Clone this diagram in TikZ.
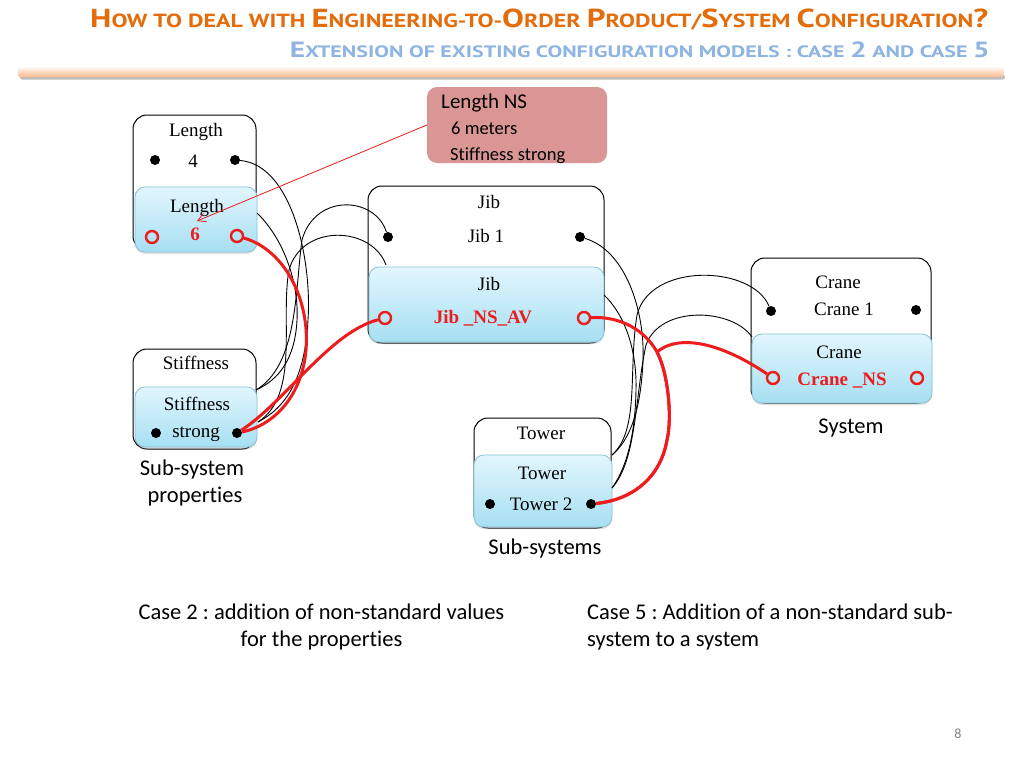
\documentclass[tikz,border=0pt]{standalone}
\usepackage{fontspec}
\usepackage{graphicx}
\setmainfont{Liberation Serif}
\newfontfamily\calfont[Ligatures={NoCommon}]{Carlito}
\newfontfamily\ttlfont{PT Sans}
\usetikzlibrary{arrows.meta,shadows}
\definecolor{ttlor}{HTML}{E46C0A}
\definecolor{subbl}{HTML}{8EB4E3}
\definecolor{callout}{HTML}{D99694}
\definecolor{bluetop}{HTML}{E2F6FD}
\definecolor{bluebot}{HTML}{A6DFF2}
\definecolor{blueedge}{HTML}{86C3D8}
\definecolor{redc}{HTML}{EE1C1C}
\definecolor{baror}{HTML}{F9B98A}
\newcommand\TB[1]{{\fontsize{26pt}{26pt}\selectfont #1}}
\newcommand\TS[1]{{\fontsize{19pt}{19pt}\selectfont #1}}
\newcommand\SB[1]{{\fontsize{22pt}{22pt}\selectfont #1}}
\newcommand\SSm[1]{{\fontsize{16.5pt}{16.5pt}\selectfont #1}}
\frenchspacing
\tikzset{
 whitebox/.style={draw=black, line width=1pt, rounded corners=14pt, fill=white, inner sep=0pt},
 bluebox/.style={draw=blueedge, line width=0.8pt, rounded corners=10pt, top color=bluetop, bottom color=bluebot, inner sep=0pt,
   drop shadow={shadow xshift=0pt, shadow yshift=-2pt, opacity=0.25}},
 dot/.style={circle, fill=black, inner sep=0pt, minimum size=10pt},
 ring/.style={circle, draw=redc, line width=2.4pt, inner sep=0pt, minimum size=12pt},
 lab/.style={font=\fontsize{19}{19}\selectfont, inner sep=0pt, anchor=base},
 redlab/.style={font=\fontsize{19}{19}\selectfont\bfseries, text=redc, inner sep=0pt, anchor=base},
 capt/.style={font=\calfont\fontsize{22.5}{22.5}\selectfont, inner sep=0pt, anchor=base},
 conn/.style={black, line width=0.9pt},
 redconn/.style={redc, line width=3pt, line join=round},
}
\begin{document}
\begin{tikzpicture}[x=1pt,y=-1pt]
\useasboundingbox (0,0) rectangle (1024,768);
\fill[white] (0,0) rectangle (1024,768);

% title
\node[anchor=base west, inner sep=0pt, text=ttlor, font=\ttlfont\bfseries] (title) at (90,28)
 {\resizebox{898pt}{\height}{\TB{H}\TS{OW TO DEAL WITH }\TB{E}\TS{NGINEERING-TO-}\TB{O}\TS{RDER }\TB{P}\TS{RODUCT/}\TB{S}\TS{YSTEM }\TB{C}\TS{ONFIGURATION}\TB{?}}};
\node[anchor=base east, inner sep=0pt, text=subbl, font=\ttlfont\bfseries] (subtitle) at (990,58)
 {\resizebox{700pt}{\height}{\SB{E}\SSm{XTENSION OF EXISTING CONFIGURATION MODELS : CASE }\SB{2}\SSm{ AND CASE }\SB{5}}};
% separator bar
\fill[black!25, rounded corners=2pt] (20,75) rectangle (1005,79.5);
\shade[rounded corners=2pt, top color=white, bottom color=baror] (18,66) rectangle (1004,77);

% callout
\node[fill=callout, rounded corners=10pt, minimum width=180pt, minimum height=76pt, inner sep=0pt] (callout) at (517,125) {};
\node[font=\calfont\fontsize{21}{21}\selectfont, anchor=base west, inner sep=0pt] (cl1) at (441,108) {Length NS};
\node[font=\calfont\fontsize{18.5}{18.5}\selectfont, anchor=base west, inner sep=0pt] (cl2) at (451,134) {6 meters};
\node[font=\calfont\fontsize{18.5}{18.5}\selectfont, anchor=base west, inner sep=0pt] (cl3) at (450,160) {Stiffness strong};

% boxes
\node[whitebox, minimum width=123pt, minimum height=135pt] (lenW) at (194.5,182.5) {};
\node[bluebox, minimum width=122pt, minimum height=65pt] (lenB) at (196,219.5) {};
\node[whitebox, minimum width=123pt, minimum height=100pt] (stW) at (194.5,399) {};
\node[bluebox, minimum width=122pt, minimum height=60pt] (stB) at (196,417) {};
\node[whitebox, minimum width=236pt, minimum height=157pt] (jibW) at (486,264.5) {};
\node[bluebox, minimum width=235pt, minimum height=75pt] (jibB) at (486.5,304.5) {};
\node[whitebox, minimum width=180pt, minimum height=145pt] (crW) at (841,330.5) {};
\node[bluebox, minimum width=180pt, minimum height=69pt] (crB) at (842,368.5) {};
\node[whitebox, minimum width=137pt, minimum height=110pt] (twW) at (542.5,473) {};
\node[bluebox, minimum width=138pt, minimum height=72pt] (twB) at (543,491) {};

% labels in boxes
\node[lab] (t1) at (196,136) {Length};
\node[lab] (t2) at (193,167) {4};
\node[lab] (t3) at (197,212) {Length};
\node[redlab] (t4) at (195,240) {6};
\node[lab] (t5) at (196,369) {Stiffness};
\node[lab] (t6) at (197,410) {Stiffness};
\node[lab] (t7) at (196,437) {strong};
\node[lab] (t8) at (489,208) {Jib};
\node[lab] (t9) at (486,242) {Jib 1};
\node[lab] (t10) at (489,290) {Jib};
\node[redlab] (t11) at (483,323) {Jib \_NS\_AV};
\node[lab] (t12) at (838,288) {Crane};
\node[lab] (t13) at (844,315) {Crane 1};
\node[lab] (t14) at (839,358) {Crane};
\node[redlab] (t15) at (842,385) {Crane \_NS};
\node[lab] (t16) at (541,439) {Tower};
\node[lab] (t17) at (542,479) {Tower};
\node[lab] (t18) at (541,510) {Tower 2};

% captions
\node[capt] (c1) at (192,475) {Sub-system};
\node[capt] (c2) at (195,502) {properties};
\node[capt] (c3) at (851,433) {System};
\node[capt] (c4) at (545,554) {Sub-systems};
\node[capt] (c5) at (321.5,619) {Case 2 : addition of non-standard values};
\node[capt] (c6) at (321.5,646) {for the properties};
\node[capt, anchor=base west] (c7) at (587,619) {Case 5 : Addition of a non-standard sub-};
\node[capt, anchor=base west] (c8) at (587,646) {system to a system};
\node[font=\calfont\fontsize{14}{14}\selectfont, text=black!50, anchor=base, inner sep=0pt] (pg) at (958,738) {8};

% ports
\node[dot] (l4a) at (155,160) {};
\node[dot] (l4b) at (235,160) {};
\node[ring] (l6a) at (152,237) {};
\node[ring] (l6b) at (237,236) {};
\node[dot] (sa) at (156,433) {};
\node[dot] (sb) at (237,433) {};
\node[dot] (j1a) at (388,237) {};
\node[dot] (j1b) at (580,237) {};
\node[ring] (jna) at (385,318) {};
\node[ring] (jnb) at (584,318) {};
\node[dot] (c1a) at (771,311) {};
\node[dot] (c1b) at (916,310) {};
\node[ring] (cna) at (773,378) {};
\node[ring] (cnb) at (917,378) {};
\node[dot] (t2a) at (490,504) {};
\node[dot] (t2b) at (591,504) {};

\coordinate (lenE) at (257,213);
\coordinate (stA) at (256,390);
\coordinate (stBB) at (258,422);
\coordinate (jibTL) at (386,265);
\coordinate (jibE) at (604,295);
\coordinate (twA) at (612,455);
\coordinate (twBB) at (612,488);
\coordinate (crTL) at (752,337);
\coordinate (arrTip) at (197,221);
\coordinate (rmerge) at (657,352);

% black connectors left
\draw[conn] (l4b) .. controls (292,165) and (312,260) .. (308,320) .. controls (305,380) and (285,408) .. (stBB);
\draw[conn] (lenE) .. controls (285,240) and (299,285) .. (297,320) .. controls (295,360) and (278,380) .. (stA);
\draw[conn] (j1a) .. controls (375,196) and (315,193) .. (302,240) .. controls (295,290) and (298,365) .. (stA);
\draw[conn] (jibTL) .. controls (372,226) and (302,223) .. (289,270) .. controls (280,320) and (300,395) .. (stBB);
% black connectors right
\draw[conn] (j1b) .. controls (625,250) and (645,310) .. (643,360) .. controls (641,410) and (630,440) .. (twA);
\draw[conn] (jibE) .. controls (625,315) and (637,350) .. (636,390) .. controls (635,440) and (625,470) .. (twBB);
\draw[conn] (c1a) .. controls (752,265) and (650,262) .. (637,315) .. controls (628,370) and (640,430) .. (twA);
\draw[conn] (crTL) .. controls (732,308) and (660,305) .. (646,345) .. controls (635,395) and (637,460) .. (twBB);

% red connectors
\draw[redconn] (l6b) .. controls (285,250) and (310,300) .. (306,350) .. controls (302,395) and (275,425) .. (sb);
\draw[redconn] (jna) .. controls (330,332) and (285,402) .. (sb);
\draw[redconn] (jnb) .. controls (620,316) and (645,330) .. (rmerge) .. controls (669,375) and (672,420) .. (667,440) .. controls (660,480) and (630,500) .. (t2b);
\draw[redconn] (cna) .. controls (720,342) and (678,334) .. (rmerge) .. controls (669,375) and (672,420) .. (667,440) .. controls (660,480) and (630,500) .. (t2b);

% callout arrow
\draw[redc, line width=0.8pt, -{Straight Barb[length=8pt,width=9pt]}] (callout.west) -- (arrTip);
\end{tikzpicture}
\end{document}
